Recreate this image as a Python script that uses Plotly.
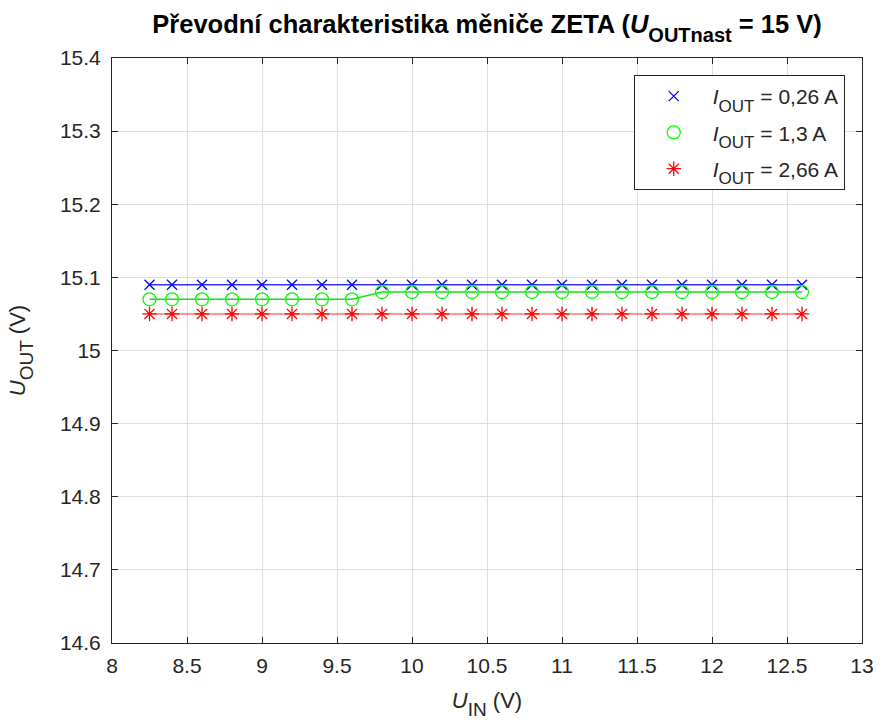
import plotly.graph_objects as go

# Input voltage sweep (V)
u_in = [8.25, 8.4, 8.6, 8.8, 9.0, 9.2, 9.4, 9.6, 9.8, 10.0, 10.2, 10.4, 10.6,
        10.8, 11.0, 11.2, 11.4, 11.6, 11.8, 12.0, 12.2, 12.4, 12.6]

# Output voltage (V) for each load current
u_out_026 = [15.09] * 23
u_out_13 = [15.07] * 8 + [15.08] * 15
u_out_266 = [15.05] * 23

# deep, fairly large subscript
SUB = "<sub><sub><span style='font-size:{s}px'>{t}</span></sub></sub>"

series_names = ["<i>I</i>" + SUB.format(s=17, t="OUT") + " = 0,26 A",
                "<i>I</i>" + SUB.format(s=17, t="OUT") + " = 1,3 A",
                "<i>I</i>" + SUB.format(s=17, t="OUT") + " = 2,66 A"]

x_ticks = [8, 8.5, 9, 9.5, 10, 10.5, 11, 11.5, 12, 12.5, 13]
x_tick_text = ["8", "8.5", "9", "9.5", "10", "10.5", "11", "11.5", "12", "12.5", "13"]
y_ticks = [14.6, 14.7, 14.8, 14.9, 15.0, 15.1, 15.2, 15.3, 15.4]
y_tick_text = ["14.6", "14.7", "14.8", "14.9", "15", "15.1", "15.2", "15.3", "15.4"]

styles = [
    dict(color="rgb(0,0,255)", line="rgba(0,0,255,0.8)", symbol="x-thin", size=10),
    dict(color="rgb(0,255,0)", line="rgba(0,220,0,0.9)", symbol="circle-open", size=13),
    dict(color="rgb(255,0,0)", line="rgba(255,0,0,0.55)", symbol="asterisk", size=12),
]

fig = go.Figure()
for i, (ys, name, st) in enumerate(zip([u_out_026, u_out_13, u_out_266], series_names, styles)):
    # connecting line
    fig.add_trace(go.Scatter(
        x=u_in, y=ys, mode="lines", showlegend=False, hoverinfo="skip",
        line=dict(color=st["line"], width=1.5), legendgroup=f"g{i}",
    ))
    # measured points
    fig.add_trace(go.Scatter(
        x=u_in, y=ys, mode="markers", name=name, legendgroup=f"g{i}",
        marker=dict(symbol=st["symbol"], size=st["size"], color=st["color"],
                    line=dict(color=st["color"], width=1.3)),
    ))

axis_common = dict(
    showgrid=True, gridcolor="rgb(223,223,223)", gridwidth=1,
    showline=True, linecolor="rgb(38,38,38)", linewidth=1, mirror="allticks",
    ticks="inside", ticklen=6, tickcolor="rgb(38,38,38)",
    tickfont=dict(family="Liberation Sans, Arial", size=21, color="rgb(38,38,38)"),
    zeroline=False, automargin=False,
)

fig.update_layout(
    width=880, height=723,
    margin=dict(l=112, r=18, t=58, b=80, autoexpand=False),
    paper_bgcolor="white", plot_bgcolor="white",
    font=dict(family="Liberation Sans, Arial", color="rgb(38,38,38)"),
    title=dict(
        text="<b>Převodní charakteristika měniče ZETA (<i>U</i>"
             + SUB.format(s=20, t="OUTnast") + " = 15 V)</b>",
        x=0.5, xref="paper", xanchor="center", y=0.967, yanchor="middle",
        font=dict(family="Liberation Sans, Arial", size=25.5, color="black"),
    ),
    xaxis=dict(axis_common, range=[8, 13], tickvals=x_ticks, ticktext=x_tick_text,
               ticklabelstandoff=4,
               title=dict(text="<i>U</i>" + SUB.format(s=19, t="IN") + " (V)", standoff=16,
                          font=dict(size=22, color="rgb(38,38,38)"))),
    yaxis=dict(axis_common, range=[14.6, 15.4], tickvals=y_ticks, ticktext=y_tick_text,
               ticklabelstandoff=6,
               title=dict(text="<i>U</i>" + SUB.format(s=19, t="OUT") + " (V)", standoff=28,
                          font=dict(size=22, color="rgb(38,38,38)"))),
    legend=dict(
        x=0.977, xanchor="right", y=0.971, yanchor="top",
        bgcolor="white", bordercolor="rgb(38,38,38)", borderwidth=1,
        font=dict(size=21, color="rgb(38,38,38)"),
        itemwidth=68, tracegroupgap=6, traceorder="grouped",
    ),
)

fig.write_html("out.html")
